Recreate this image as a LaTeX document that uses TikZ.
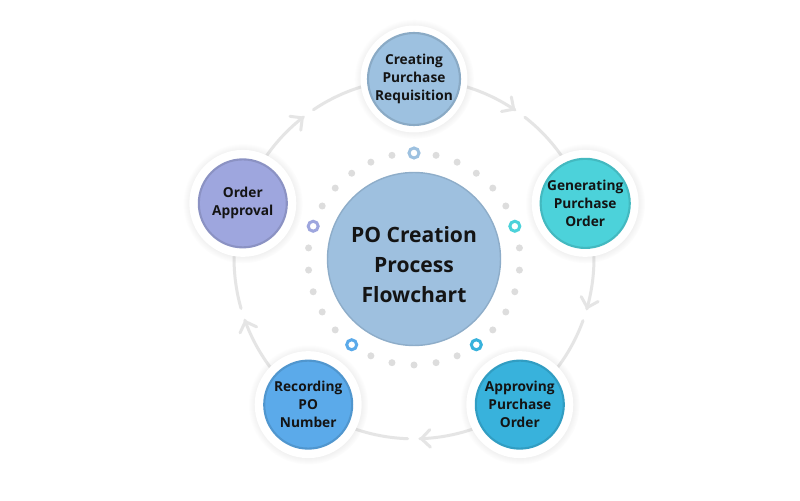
\documentclass[tikz,border=0pt]{standalone}
\usepackage{fontspec}
\setmainfont{Open Sans}
\usetikzlibrary{arrows.meta,decorations.markings,shadows,backgrounds}

\definecolor{ringgray}{HTML}{E5E5E5}
\definecolor{dotgray}{HTML}{DDDDDD}
\definecolor{inkblack}{HTML}{141414}
\definecolor{centerblue}{HTML}{9EC0DF}
\definecolor{reqblue}{HTML}{9DC1E0}
\definecolor{genteal}{HTML}{4CD2DA}
\definecolor{appcyan}{HTML}{38B2DC}
\definecolor{recblue}{HTML}{5BAAEA}
\definecolor{ordlilac}{HTML}{9EA6DE}

\tikzstyle{every node}=[font=\bfseries\fontsize{7.8}{10.2}\selectfont, text=inkblack]

\begin{document}
\begin{tikzpicture}[
            x=0.02cm, y=0.02cm,
            halo/.style={circle, fill=white, minimum size=2.14cm,
                circular drop shadow={shadow xshift=0pt, shadow yshift=0pt, shadow scale=1.12, opacity=0.14}},
            stepnode/.style={circle, fill=#1, draw=#1!88!black, line width=1.2pt,
                minimum size=1.76cm, inner sep=0pt, align=center},
            marker/.style={draw=#1, line width=1.7pt},
            cyclearrow/.style={draw=ringgray, line width=1.7pt, line cap=round, looseness=0.94,
                dash pattern=on 61pt off 7pt on 300pt,
                postaction={decorate, decoration={markings,
                    mark=at position 61pt with {\arrow{Straight Barb[length=5pt, width=10pt, round]}}}}}]
        \useasboundingbox (0,0) rectangle (800,500);

        % centre
        \node[circle, fill=centerblue, draw=centerblue!90!black, line width=0.8pt, minimum size=3.46cm,
              label={[align=center, yshift=-3pt, font=\bfseries\fontsize{12}{17}\selectfont]center:PO Creation\\Process\\Flowchart}]
              (po) at (414,241) {};

        % steps, clockwise from the top
        \node[halo] (creating-halo) at ([shift={(90:180)}]po) {};
        \node[stepnode=reqblue] (creating) at (creating-halo) {Creating\\Purchase\\Requisition};
        \node[halo] (generating-halo) at ([shift={(18:180)}]po) {};
        \node[stepnode=genteal] (generating) at (generating-halo) {Generating\\Purchase\\Order};
        \node[halo] (approving-halo) at ([shift={(-54:180)}]po) {};
        \node[stepnode=appcyan] (approving) at (approving-halo) {Approving\\Purchase\\Order};
        \node[halo] (recording-halo) at ([shift={(-126:180)}]po) {};
        \node[stepnode=recblue] (recording) at (recording-halo) {Recording\\PO\\Number};
        \node[halo] (approval-halo) at ([shift={(162:180)}]po) {};
        \node[stepnode=ordlilac] (approval) at (approval-halo) {Order\\Approval};

        % dotted ring round the centre
        \foreach \s in {0,...,4}
            \foreach \k in {1,...,5}
                \fill[dotgray] ([shift={(90-72*\s-12*\k:106)}]po) circle (3.5);
        \draw[marker=reqblue] ([shift={(90:106)}]po) circle (5);
        \draw[marker=genteal] ([shift={(18:106)}]po) circle (5);
        \draw[marker=appcyan] ([shift={(-54:106)}]po) circle (5);
        \draw[marker=recblue] ([shift={(-126:106)}]po) circle (5);
        \draw[marker=ordlilac] ([shift={(162:106)}]po) circle (5);

        % cycle arcs, behind the steps
        \begin{scope}[on background layer]
            \fill[white] (0,0) rectangle (800,500);
            \draw[cyclearrow] (creating.center) to[bend left=36] (generating.center);
            \draw[cyclearrow] (generating.center) to[bend left=36] (approving.center);
            \draw[cyclearrow] (approving.center) to[bend left=36] (recording.center);
            \draw[cyclearrow] (recording.center) to[bend left=36] (approval.center);
            \draw[cyclearrow] (approval.center) to[bend left=36] (creating.center);
        \end{scope}
    \end{tikzpicture}
\end{document}
